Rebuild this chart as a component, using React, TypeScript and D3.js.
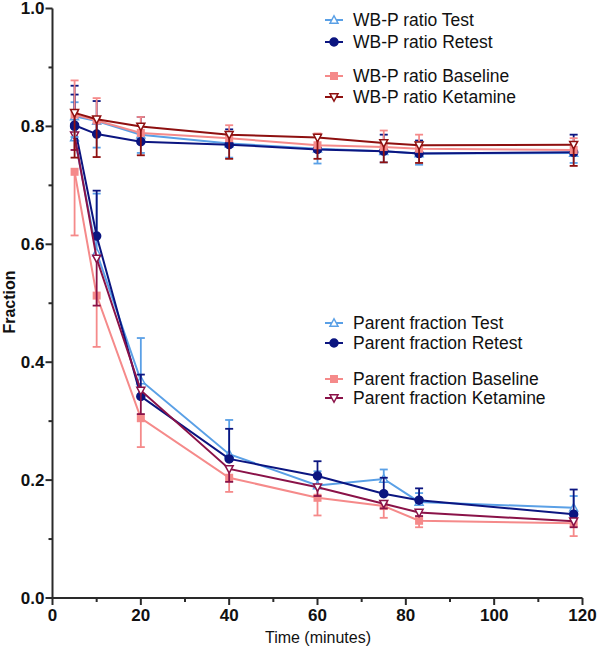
import React from 'react';
import * as d3 from 'd3';

const times = [5, 10, 20, 40, 60, 75, 83, 118];

const wbpTest = [0.817, 0.809, 0.786, 0.771, 0.762, 0.758, 0.754, 0.755];
const wbpTestErr = [0.035, 0.045, 0.031, 0.024, 0.025, 0.019, 0.019, 0.017];
const wbpRetest = [0.802, 0.787, 0.774, 0.769, 0.761, 0.758, 0.754, 0.756];
const wbpRetestErr = [0.067, 0.056, 0.042, 0.026, 0.025, 0.028, 0.022, 0.03];
const wbpBaseline = [0.82, 0.81, 0.789, 0.78, 0.768, 0.765, 0.762, 0.76];
const wbpBaselineErr = [0.058, 0.038, 0.027, 0.022, 0.02, 0.028, 0.024, 0.02];
const wbpKetamine = [0.823, 0.812, 0.8, 0.786, 0.781, 0.772, 0.768, 0.769];
const wbpKetamineErr = [0.076, 0.064, 0.049, 0.041, 0.036, 0.033, 0.03, 0.036];

const pfTest = [0.781, 0.586, 0.369, 0.244, 0.191, 0.202, 0.163, 0.153];
const pfTestErr = [0.06, 0.1, 0.072, 0.058, 0.024, 0.016, 0.015, 0.02];
const pfRetest = [0.8, 0.614, 0.342, 0.236, 0.207, 0.177, 0.166, 0.142];
const pfRetestErr = [0.054, 0.077, 0.037, 0.051, 0.025, 0.027, 0.02, 0.042];
const pfBaseline = [0.723, 0.513, 0.305, 0.204, 0.17, 0.156, 0.131, 0.127];
const pfBaselineErr = [0.108, 0.087, 0.049, 0.024, 0.03, 0.02, 0.011, 0.022];
const pfKetamine = [0.785, 0.576, 0.352, 0.219, 0.188, 0.16, 0.145, 0.13];
const pfKetamineErr = [0.025, 0.08, 0.04, 0.022, 0.015, 0.008, 0.006, 0.01];

const xTicks = [0, 20, 40, 60, 80, 100, 120];
const yTicks = [0, 0.2, 0.4, 0.6, 0.8, 1.0];

type Shape = 'triUp' | 'circle' | 'square' | 'triDown';
interface Series {
  name: string;
  values: number[];
  err: number[];
  dir: number;
  color: string;
  shape: Shape;
  open: boolean;
}

const C_TEST = '#5aa0e6';
const C_RETEST = '#0b1580';
const C_BASE = '#f58a8a';
const C_KET = '#8e1010';
const C_PKET = '#8a1248';

const wbpSeries: Series[] = [
  { name: 'WB-P ratio Test', values: wbpTest, err: wbpTestErr, dir: -1, color: C_TEST, shape: 'triUp', open: true },
  { name: 'WB-P ratio Retest', values: wbpRetest, err: wbpRetestErr, dir: 1, color: C_RETEST, shape: 'circle', open: false },
  { name: 'WB-P ratio Baseline', values: wbpBaseline, err: wbpBaselineErr, dir: 1, color: C_BASE, shape: 'square', open: false },
  { name: 'WB-P ratio Ketamine', values: wbpKetamine, err: wbpKetamineErr, dir: -1, color: C_KET, shape: 'triDown', open: true },
];
const pfSeries: Series[] = [
  { name: 'Parent fraction Test', values: pfTest, err: pfTestErr, dir: 1, color: C_TEST, shape: 'triUp', open: true },
  { name: 'Parent fraction Retest', values: pfRetest, err: pfRetestErr, dir: 1, color: C_RETEST, shape: 'circle', open: false },
  { name: 'Parent fraction Baseline', values: pfBaseline, err: pfBaselineErr, dir: -1, color: C_BASE, shape: 'square', open: false },
  { name: 'Parent fraction Ketamine', values: pfKetamine, err: pfKetamineErr, dir: -1, color: C_PKET, shape: 'triDown', open: true },
];

const x = d3.scaleLinear().domain([0, 120]).range([52.5, 582.5]);
const y = d3.scaleLinear().domain([0, 1]).range([598, 8.5]);
const FONT = 'Liberation Sans, Arial, Helvetica, sans-serif';

function Marker({ cx, cy, s }: { cx: number; cy: number; s: Series }) {
  const fill = s.open ? '#fff' : s.color;
  if (s.shape === 'circle') return <circle cx={cx} cy={cy} r={4} fill={fill} stroke={s.color} strokeWidth={1.5} />;
  if (s.shape === 'square') return <rect x={cx - 4} y={cy - 4} width={8} height={8} fill={fill} />;
  const h = 6.5;
  const w = 4;
  const pts = s.shape === 'triUp'
    ? `${cx},${cy - h / 2 - 1} ${cx - w},${cy + h / 2} ${cx + w},${cy + h / 2}`
    : `${cx},${cy + h / 2 + 1} ${cx - w},${cy - h / 2} ${cx + w},${cy - h / 2}`;
  return <polygon points={pts} fill={fill} stroke={s.color} strokeWidth={1.5} />;
}

function SeriesView({ s }: { s: Series }) {
  const line = d3.line<number>().x((_, i) => x(times[i])).y((v) => y(v));
  return (
    <g>
      {s.values.map((v, i) => {
        const e = v + s.dir * s.err[i];
        return (
          <g key={i} stroke={s.color} strokeWidth={1.8}>
            <line x1={x(times[i])} x2={x(times[i])} y1={y(v)} y2={y(e)} />
            <line x1={x(times[i]) - 4} x2={x(times[i]) + 4} y1={y(e)} y2={y(e)} />
          </g>
        );
      })}
      <path d={line(s.values) || ''} fill="none" stroke={s.color} strokeWidth={2} />
      {s.values.map((v, i) => (
        <Marker key={i} cx={x(times[i])} cy={y(v)} s={s} />
      ))}
    </g>
  );
}

function Legend({ series, x0, ys }: { series: Series[]; x0: number; ys: number[] }) {
  return (
    <g>
      {series.map((s, i) => (
        <g key={s.name}>
          <line x1={x0} x2={x0 + 18} y1={ys[i]} y2={ys[i]} stroke={s.color} strokeWidth={2} />
          <Marker cx={x0 + 9} cy={ys[i]} s={s} />
          <text x={x0 + 28} y={ys[i]} dy="0.35em" fontFamily={FONT} fontSize={17.5} fill="#111">{s.name}</text>
        </g>
      ))}
    </g>
  );
}

export default function App() {
  const xMinor = d3.range(10, 120, 20);
  const yMinor = d3.range(0.1, 1, 0.2);
  return (
    <svg width={597} height={650} style={{ position: 'absolute', left: 0, top: 0, background: '#fff' }}>
      <rect width={597} height={650} fill="#fff" />
      <g stroke="#2a2a2a" strokeWidth={2}>
        <line x1={x(0)} x2={x(0)} y1={y(1)} y2={y(0)} />
        <line x1={x(0)} x2={x(120)} y1={y(0)} y2={y(0)} />
        {yTicks.map((t) => (
          <line key={t} x1={x(0) - 7} x2={x(0)} y1={y(t)} y2={y(t)} />
        ))}
        {yMinor.map((t) => (
          <line key={t} x1={x(0) - 4} x2={x(0)} y1={y(t)} y2={y(t)} />
        ))}
        {xTicks.map((t) => (
          <line key={t} x1={x(t)} x2={x(t)} y1={y(0)} y2={y(0) + 7} />
        ))}
        {xMinor.map((t) => (
          <line key={t} x1={x(t)} x2={x(t)} y1={y(0)} y2={y(0) + 4} />
        ))}
      </g>
      {yTicks.map((t) => (
        <text key={t} x={x(0) - 8} y={y(t)} dy="0.35em" textAnchor="end" fontFamily={FONT} fontWeight="bold" fontSize={17} fill="#111">
          {d3.format('.1f')(t)}
        </text>
      ))}
      {xTicks.map((t) => (
        <text key={t} x={x(t)} y={y(0) + 23} textAnchor="middle" fontFamily={FONT} fontWeight="bold" fontSize={17} fill="#111">
          {t}
        </text>
      ))}
      <text x={318} y={643} textAnchor="middle" fontFamily={FONT} fontSize={16} fill="#111">Time (minutes)</text>
      <text transform="translate(15,302) rotate(-90)" textAnchor="middle" fontFamily={FONT} fontWeight="bold" fontSize={16} fill="#111">Fraction</text>

      {pfSeries.map((s) => <SeriesView key={s.name} s={s} />)}
      {wbpSeries.map((s) => <SeriesView key={s.name} s={s} />)}

      <Legend series={wbpSeries} x0={325} ys={[20, 42, 76, 97]} />
      <Legend series={pfSeries} x0={325} ys={[323, 343, 379, 398]} />
    </svg>
  );
}
